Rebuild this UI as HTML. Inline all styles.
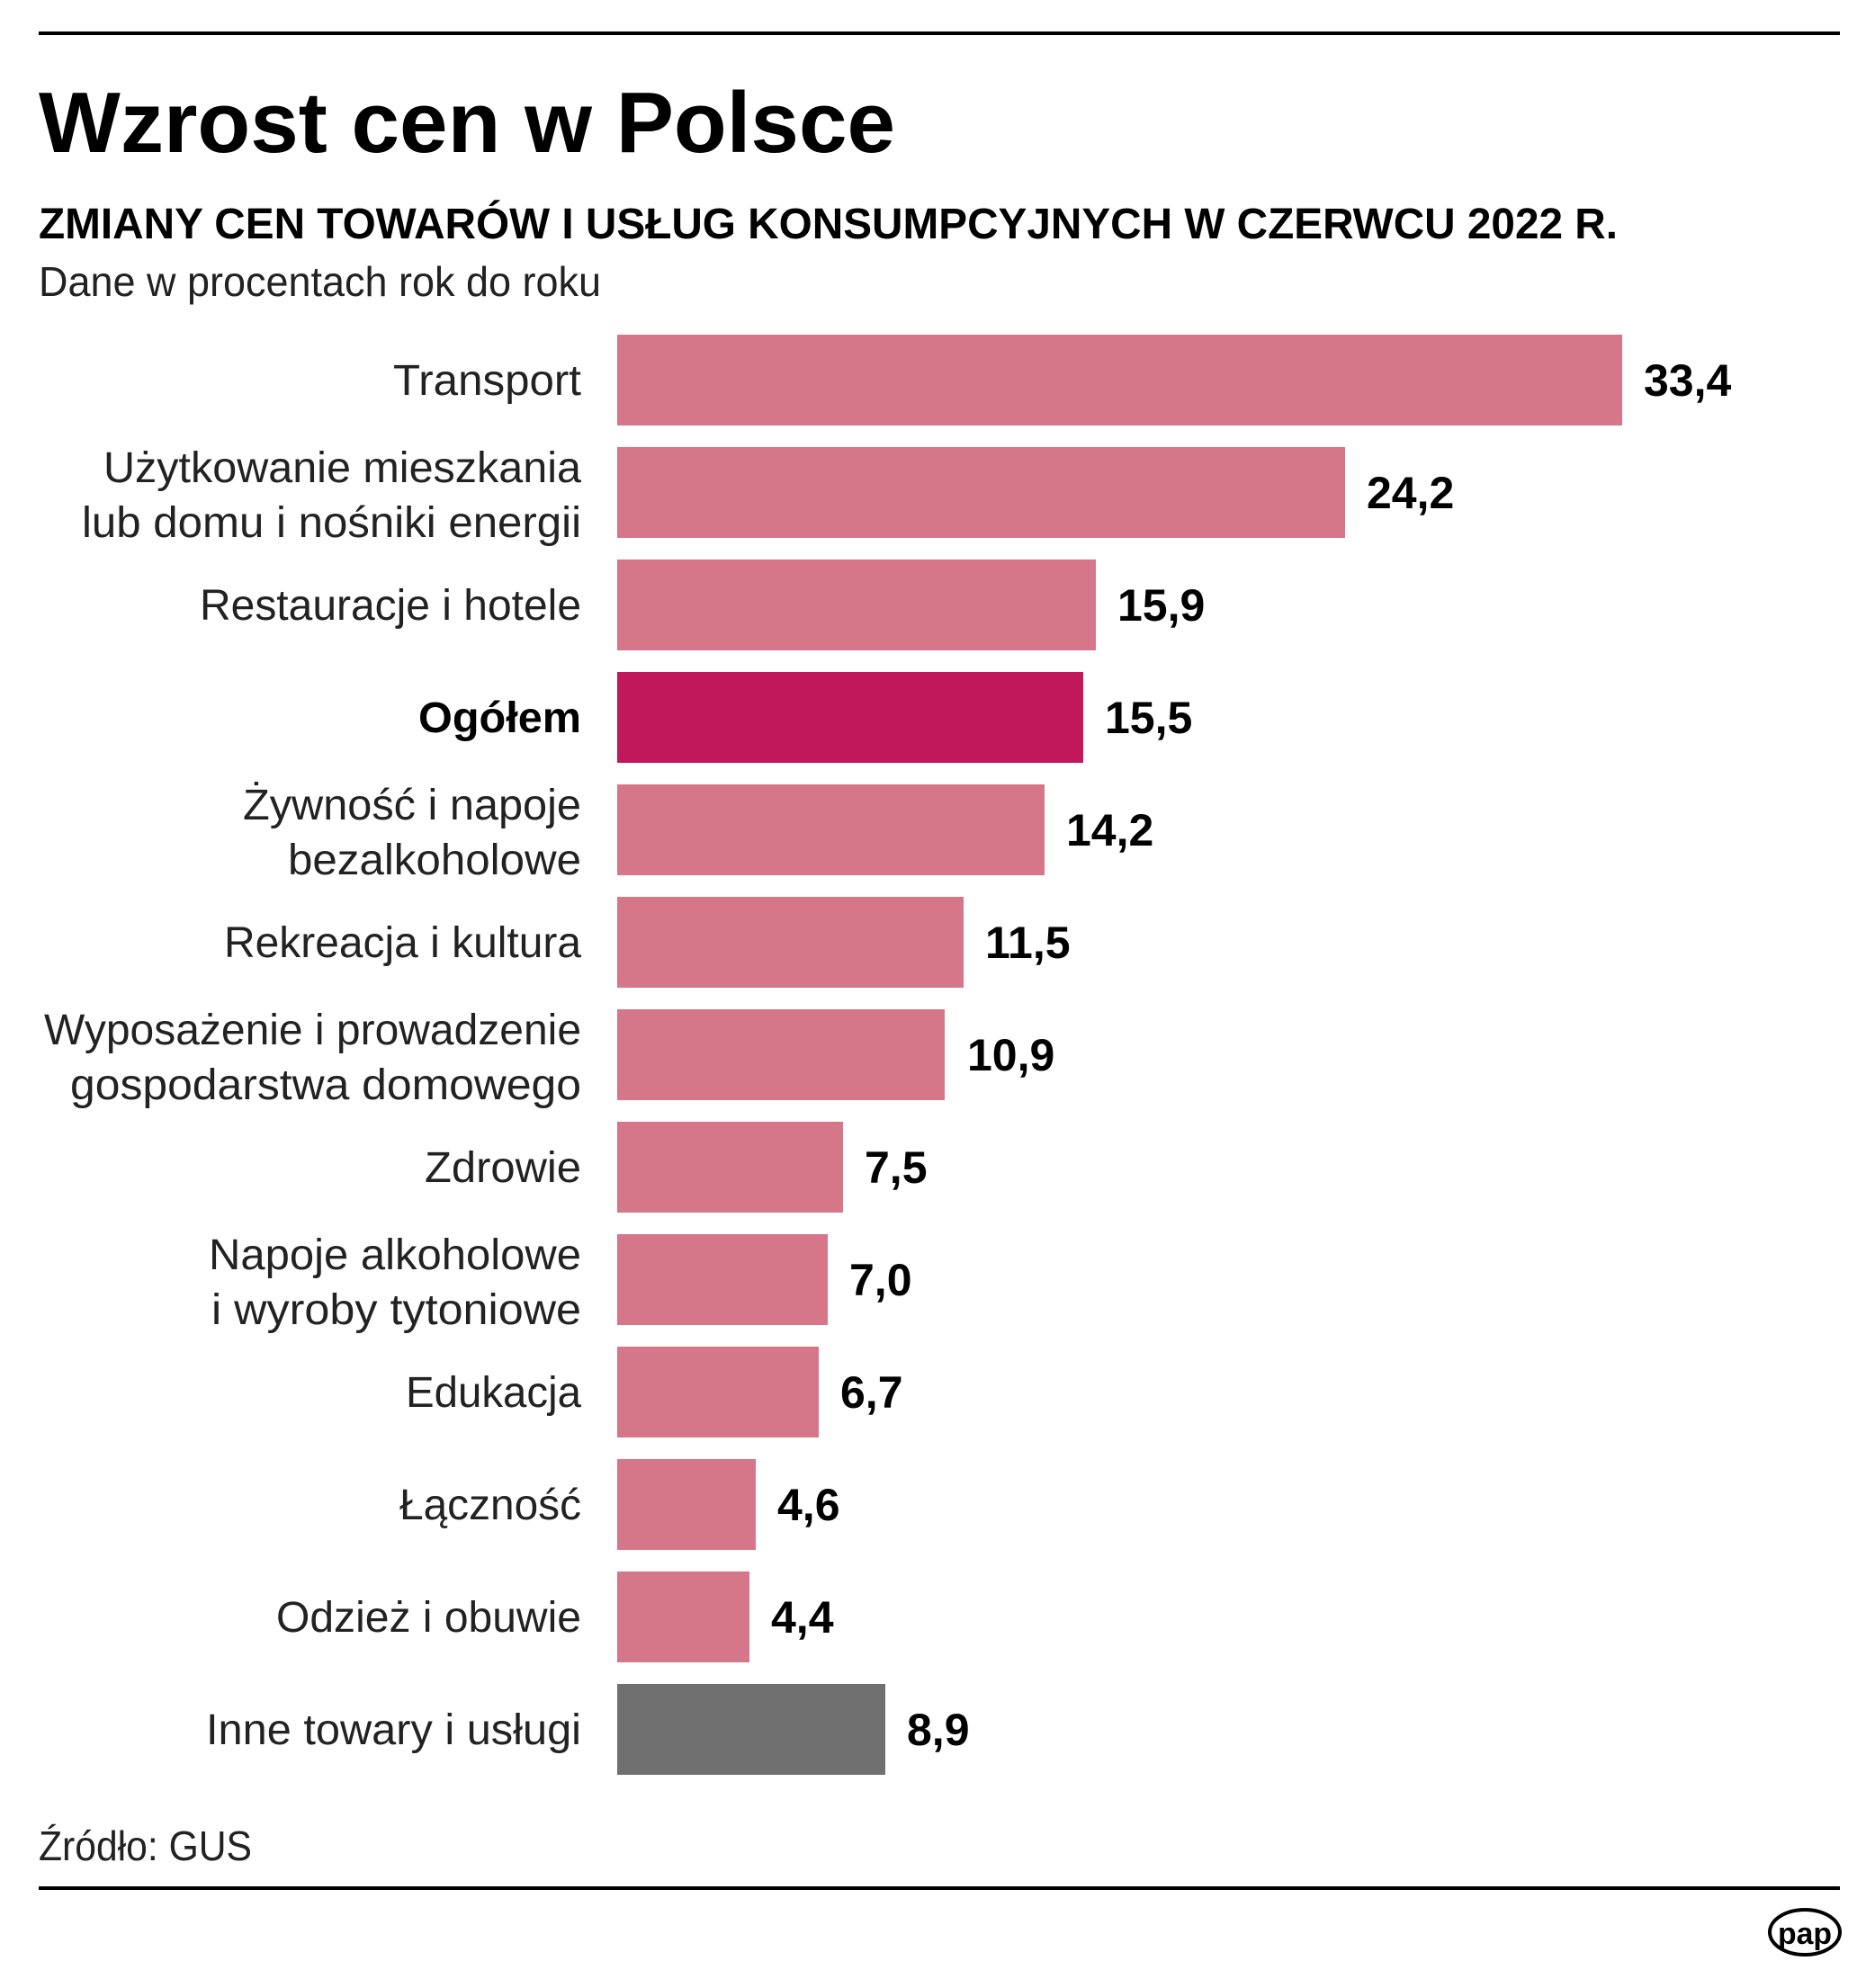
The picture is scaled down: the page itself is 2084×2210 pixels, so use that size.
<!DOCTYPE html>
<html><head><meta charset="utf-8"><style>html,body{margin:0;padding:0;background:#fff}svg{display:block}</style></head>
<body>
<svg width="2084" height="2210" viewBox="0 0 2084 2210" xmlns="http://www.w3.org/2000/svg" font-family="'Liberation Sans', sans-serif">
<rect x="43" y="35" width="2002" height="4" fill="#000"/>
<text x="43" y="169" font-size="96" font-weight="bold" textLength="952" lengthAdjust="spacingAndGlyphs">Wzrost cen w Polsce</text>
<text x="43" y="265" font-size="48" font-weight="bold" textLength="1755" lengthAdjust="spacingAndGlyphs">ZMIANY CEN TOWARÓW I USŁUG KONSUMPCYJNYCH W CZERWCU 2022 R.</text>
<text x="43" y="329" font-size="46" fill="#222" textLength="625" lengthAdjust="spacingAndGlyphs">Dane w procentach rok do roku</text>
<g fill="#d67789">
<rect x="686" y="372" width="1117" height="101"/>
<rect x="686" y="497" width="809" height="101"/>
<rect x="686" y="622" width="532" height="101"/>
<rect x="686" y="872" width="475" height="101"/>
<rect x="686" y="997" width="385" height="101"/>
<rect x="686" y="1122" width="364" height="101"/>
<rect x="686" y="1247" width="251" height="101"/>
<rect x="686" y="1372" width="234" height="101"/>
<rect x="686" y="1497" width="224" height="101"/>
<rect x="686" y="1622" width="154" height="101"/>
<rect x="686" y="1747" width="147" height="101"/>
</g>
<rect x="686" y="747" width="518" height="101" fill="#c0185a"/>
<rect x="686" y="1872" width="298" height="101" fill="#707070"/>
<g font-size="48" text-anchor="end" fill="#222">
<text x="646" y="439" textLength="209" lengthAdjust="spacingAndGlyphs">Transport</text>
<text x="646" y="536" textLength="531" lengthAdjust="spacingAndGlyphs">Użytkowanie mieszkania</text>
<text x="646" y="597" textLength="555" lengthAdjust="spacingAndGlyphs">lub domu i nośniki energii</text>
<text x="646" y="689" textLength="424" lengthAdjust="spacingAndGlyphs">Restauracje i hotele</text>
<text x="646" y="814" font-weight="bold" fill="#000" textLength="181" lengthAdjust="spacingAndGlyphs">Ogółem</text>
<text x="646" y="911" textLength="376" lengthAdjust="spacingAndGlyphs">Żywność i napoje</text>
<text x="646" y="972" textLength="326" lengthAdjust="spacingAndGlyphs">bezalkoholowe</text>
<text x="646" y="1064" textLength="397" lengthAdjust="spacingAndGlyphs">Rekreacja i kultura</text>
<text x="646" y="1161" textLength="597" lengthAdjust="spacingAndGlyphs">Wyposażenie i prowadzenie</text>
<text x="646" y="1222" textLength="568" lengthAdjust="spacingAndGlyphs">gospodarstwa domowego</text>
<text x="646" y="1314" textLength="174" lengthAdjust="spacingAndGlyphs">Zdrowie</text>
<text x="646" y="1411" textLength="414" lengthAdjust="spacingAndGlyphs">Napoje alkoholowe</text>
<text x="646" y="1472" textLength="411" lengthAdjust="spacingAndGlyphs">i wyroby tytoniowe</text>
<text x="646" y="1564" textLength="195" lengthAdjust="spacingAndGlyphs">Edukacja</text>
<text x="646" y="1689" textLength="202" lengthAdjust="spacingAndGlyphs">Łączność</text>
<text x="646" y="1814" textLength="339" lengthAdjust="spacingAndGlyphs">Odzież i obuwie</text>
<text x="646" y="1939" textLength="417" lengthAdjust="spacingAndGlyphs">Inne towary i usługi</text>
</g>
<g font-size="50" font-weight="bold" fill="#000">
<text x="1827" y="440">33,4</text>
<text x="1519" y="565">24,2</text>
<text x="1242" y="690">15,9</text>
<text x="1228" y="815">15,5</text>
<text x="1185" y="940">14,2</text>
<text x="1095" y="1065">11,5</text>
<text x="1075" y="1190">10,9</text>
<text x="961" y="1315">7,5</text>
<text x="944" y="1440">7,0</text>
<text x="934" y="1565">6,7</text>
<text x="864" y="1690">4,6</text>
<text x="857" y="1815">4,4</text>
<text x="1008" y="1940">8,9</text>
</g>
<text x="43" y="2068" font-size="46" fill="#222" textLength="237" lengthAdjust="spacingAndGlyphs">Źródło: GUS</text>
<rect x="43" y="2097" width="2002" height="4" fill="#000"/>
<ellipse cx="2006" cy="2148" rx="39" ry="25" fill="#fff" stroke="#000" stroke-width="4"/>
<text x="2006" y="2161" font-size="34" font-weight="bold" text-anchor="middle" textLength="60" lengthAdjust="spacingAndGlyphs">pap</text>
</svg>
</body></html>
